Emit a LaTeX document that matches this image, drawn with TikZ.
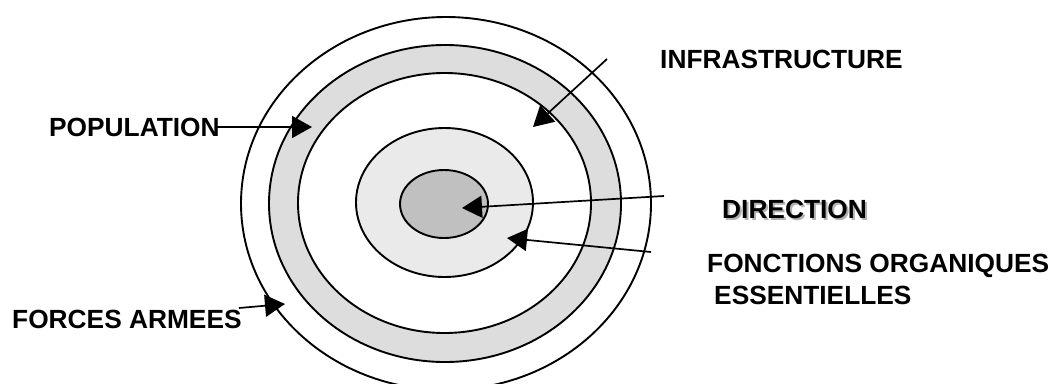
\documentclass[tikz,border=0pt]{standalone}
\usepackage{fontspec}
\setmainfont{Liberation Sans}
\usetikzlibrary{arrows.meta}
\definecolor{ringgray}{HTML}{DDDDDD}
\definecolor{midgray}{HTML}{EAEAEA}
\definecolor{coregray}{HTML}{C0C0C0}
\tikzset{
  ring/.style={line width=1.9pt, draw=black},
  lbl/.style={font=\fontsize{26.3}{30}\selectfont\bfseries, inner sep=0pt, anchor=base west},
  pointer/.style={line width=1.7pt, -{Triangle[length=20pt,width=22pt]}}
}
\begin{document}
\begin{tikzpicture}[x=1pt,y=-1pt]
\useasboundingbox (0,0) rectangle (1052,383);
\clip (0,0) rectangle (1052,383);
\fill[white] (0,0) rectangle (1052,383);
% concentric ellipses
\draw[ring, fill=white] (446,203.5) ellipse [x radius=205, y radius=186.5];
\draw[ring, fill=ringgray] (445,203.5) ellipse [x radius=176, y radius=158.5];
\draw[ring, fill=white] (444.5,203) ellipse [x radius=146.5, y radius=130];
\draw[ring, fill=midgray] (444.5,202.5) ellipse [x radius=88.5, y radius=74.5];
\draw[ring, fill=coregray] (444,204) ellipse [x radius=44, y radius=34];
% labels
\node[lbl] (pop) at (49,136) {POPULATION};
\node[lbl] (fa) at (12,328) {FORCES ARMEES};
\node[lbl] (inf) at (660,68) {INFRASTRUCTURE};
\node[lbl, text=black!30] (dirshadow) at (724,220) {DIRECTION};
\node[lbl] (dir) at (722,218) {DIRECTION};
\node[lbl] (foe1) at (707,272) {FONCTIONS ORGANIQUES};
\node[lbl] (foe2) at (714,304) {ESSENTIELLES};
% arrow anchors
\coordinate (popT) at (312,127);
\coordinate (faS) at (239,308);
\coordinate (faT) at (285,304);
\coordinate (infS) at (607,59);
\coordinate (infT) at (533,127);
\coordinate (dirS) at (664,196);
\coordinate (dirT) at (462,208);
\coordinate (foeS) at (651,252);
\coordinate (foeT) at (507,238);
% connectors
\draw[pointer] (pop.base east) ++(-5,-9) -- (popT);
\draw[pointer] (faS) -- (faT);
\draw[pointer] (infS) -- (infT);
\draw[pointer] (dirS) -- (dirT);
\draw[pointer] (foeS) -- (foeT);
\end{tikzpicture}
\end{document}
